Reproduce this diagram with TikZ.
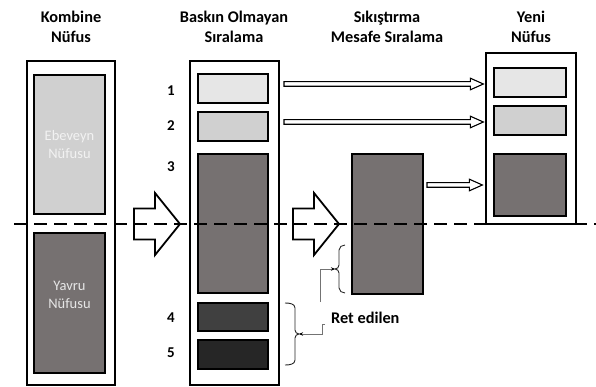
\documentclass[tikz,border=0pt]{standalone}
\usepackage{fontspec}
\setmainfont{Carlito}
\usetikzlibrary{calc,arrows.meta}
\definecolor{g1}{HTML}{E6E6E6}
\definecolor{g2}{HTML}{D0D0D0}
\definecolor{g3}{HTML}{767171}
\definecolor{g4}{HTML}{404040}
\definecolor{g5}{HTML}{262626}
\begin{document}
\begin{tikzpicture}[x=1pt,y=-1pt,
 outer/.style={draw=black, line width=1.3pt, fill=white, inner sep=0pt},
 inbox/.style={draw=black, line width=1.8pt, inner sep=0pt},
 title/.style={font=\bfseries\fontsize{16.3}{20}\selectfont, align=center, inner sep=0pt},
 num/.style={font=\bfseries\fontsize{15}{16}\selectfont, inner sep=0pt},
 intext/.style={font=\fontsize{14.5}{18}\selectfont, align=center, inner sep=0pt},
 blockarrow/.style={draw=black, line width=1.8pt, fill=white, line join=miter},
 hollow/.style={draw=black, line width=1.1pt, fill=white, line join=miter},
 dashline/.style={line width=1.5pt, dash pattern=on 13pt off 7pt},
 brack/.style={draw=black!85, line width=0.9pt},
 lead/.style={draw=black!55, line width=0.9pt, -{Stealth[length=4pt,width=3.5pt,black]}},
]
\useasboundingbox (0,0) rectangle (596,387);

% titles
\node[title] (t1) at (71,27) {Kombine\\Nüfus};
\node[title] (t2) at (234,27) {Baskın Olmayan\\Sıralama};
\node[title] (t3) at (387,27) {Sıkıştırma\\Mesafe Sıralama};
\node[title] (t4) at (531,27) {Yeni\\Nüfus};

% left column
\node[outer, minimum width=88pt, minimum height=324pt] (lo) at (71,223) {};
\node[inbox, fill=g2, minimum width=71pt, minimum height=139pt] (eb) at (69.5,144.5) {};
\node[inbox, fill=g3, minimum width=71pt, minimum height=140pt] (ya) at (69.5,303) {};
\node[intext, text=white!95!black] (ebt) at (eb.center) {Ebeveyn\\Nüfusu};
\node[intext, text=g1] (yat) at ($(ya.center)+(0,-8)$) {Yavru\\Nüfusu};

% middle column
\node[outer, minimum width=89pt, minimum height=324pt] (mo) at (234.5,223) {};
\node[inbox, fill=g1, minimum width=70pt, minimum height=29pt] (b1) at (233,88.5) {};
\node[inbox, fill=g2, minimum width=70pt, minimum height=29pt] (b2) at (233,126.5) {};
\node[inbox, fill=g3, minimum width=70pt, minimum height=139pt] (b3) at (233,223.5) {};
\node[inbox, fill=g4, minimum width=70pt, minimum height=28pt] (b4) at (233,317) {};
\node[inbox, fill=g5, minimum width=70pt, minimum height=29pt] (b5) at (233,354.5) {};
\node[num] (n1) at (171,91) {1};
\node[num] (n2) at (171,126) {2};
\node[num] (n3) at (171,167) {3};
\node[num] (n4) at (171,318) {4};
\node[num] (n5) at (171,353) {5};

% compression
\node[inbox, fill=g3, minimum width=71pt, minimum height=140pt] (cb) at (387.5,224) {};

% right column
\node[outer, minimum width=90pt, minimum height=171pt] (ro) at (531,138.5) {};
\node[inbox, fill=g1, minimum width=72pt, minimum height=29pt] (r1) at (530,82.5) {};
\node[inbox, fill=g2, minimum width=72pt, minimum height=29pt] (r2) at (530,120.5) {};
\node[inbox, fill=g3, minimum width=72pt, minimum height=62pt] (r3) at (530,185) {};

% block arrows
\coordinate (ba1s) at (134,224);
\coordinate (ba1t) at (180,224);
\coordinate (ba2s) at (293,224);
\coordinate (ba2t) at (339,224);
\foreach \s/\t in {ba1s/ba1t, ba2s/ba2t}{
 \draw[blockarrow] let \p1=(\s), \p2=(\t) in
  (\x1,\y1-15.5) -- (\x2-25,\y1-15.5) -- (\x2-25,\y1-31) -- (\x2,\y1)
  -- (\x2-25,\y1+31) -- (\x2-25,\y1+15.5) -- (\x1,\y1+15.5) -- cycle;
}

% hollow double arrows
\coordinate (h1s) at (284,84);
\coordinate (h2s) at (284,122);
\coordinate (h3s) at (427,185);
\coordinate (h1t) at ($(h1s -| ro.west)+(-2,0)$);
\coordinate (h2t) at ($(h2s -| ro.west)+(-2,0)$);
\coordinate (h3t) at ($(h3s -| ro.west)+(-3,0)$);
\foreach \s/\t in {h1s/h1t, h2s/h2t, h3s/h3t}{
 \draw[hollow] let \p1=(\s), \p2=(\t) in
  (\x1,\y1-2.3) -- (\x2-13,\y1-2.3) -- (\x2-13,\y1-5.8) -- (\x2,\y1)
  -- (\x2-13,\y1+5.8) -- (\x2-13,\y1+2.3) -- (\x1,\y1+2.3) -- cycle;
}

% brackets
\coordinate (rb1tip) at (335,269);
\draw[brack] (345,245) to[out=180,in=90] (339,250) -- (339,265) to[out=-90,in=0] (rb1tip)
  to[out=0,in=90] (339,273) -- (339,288) to[out=-90,in=180] (345,293);
\coordinate (rb2tip) at (299,334);
\draw[brack] (285,303) to[out=0,in=90] (295,308) -- (295,330) to[out=-90,in=180] (rb2tip)
  to[out=180,in=90] (295,338) -- (295,360) to[out=-90,in=0] (285,365);

% label and leads
\node[font=\bfseries\fontsize{16.3}{18}\selectfont, inner sep=0pt, anchor=west] (ret) at (331,318) {Ret edilen};
\coordinate (l1a) at (320,302);
\draw[lead] (l1a) |- (rb1tip);
\coordinate (l2a) at ($(ret.west)+(-6,6)$);
\draw[lead] (l2a) -- ++(-3,0) |- (rb2tip);

% dashed line
\coordinate (d1) at (14,224);
\coordinate (d2) at (596,224);
\draw[dashline] (d1) -- (d2);
\end{tikzpicture}
\end{document}
